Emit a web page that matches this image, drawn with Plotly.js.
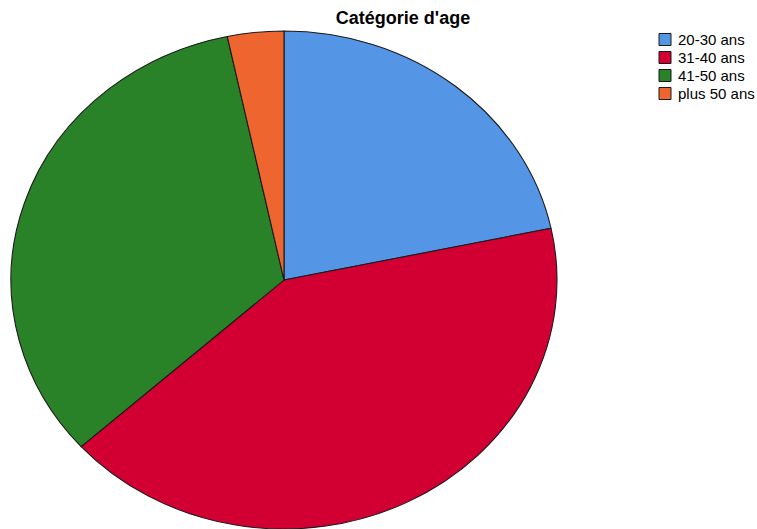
<!DOCTYPE html>
<html>
<head>
<meta charset="utf-8">
<script src="https://cdn.plot.ly/plotly-3.0.1.min.js"></script>
<style>html,body{margin:0;padding:0;background:#fff;}#chart{width:757px;height:529px;}</style>
</head>
<body>
<div id="chart"></div>
<script>
const categories = ["20-30 ans", "31-40 ans", "41-50 ans", "plus 50 ans"];
const counts = [13, 25, 20, 2];
const colors = ["#5595e5", "#d20032", "#2a8228", "#ef6530"];
const chartTitle = "Catégorie d'age";

const W = 757, H = 529;
const cx = 284, cy = 280, rx = 273, ry = 249;
const FONT = "Liberation Sans, Arial, sans-serif";

const data = [{
  type: "pie",
  labels: categories,
  values: counts,
  sort: false,
  direction: "clockwise",
  rotation: 0,
  textinfo: "none",
  hoverinfo: "label+value+percent",
  marker: {colors: colors, line: {color: "#1a1a1a", width: 1}},
  domain: {x: [(cx - ry) / W, (cx + ry) / W], y: [(H - cy - ry) / H, (H - cy + ry) / H]}
}];

const layout = {
  width: W, height: H,
  margin: {l: 0, r: 0, t: 0, b: 0},
  paper_bgcolor: "#fff",
  font: {family: FONT, size: 15, color: "#000"},
  title: {text: "<b>" + chartTitle + "</b>", x: 403 / W, xanchor: "center", y: 1 - 18 / H, yanchor: "middle",
          font: {family: FONT, size: 18, color: "#000"}},
  showlegend: true,
  legend: {x: 1, xanchor: "right", y: 1 - 28 / H, yanchor: "top", borderwidth: 0,
           font: {family: FONT, size: 15, color: "#000"},
           bgcolor: "rgba(0,0,0,0)", itemclick: false, itemdoubleclick: false}
};

Plotly.newPlot("chart", data, layout, {displayModeBar: false, staticPlot: true}).then(function (gd) {
  const pl = gd.querySelector(".pielayer");
  if (pl) {
    const s = rx / ry;
    pl.setAttribute("transform", "translate(" + cx + ",0) scale(" + s + ",1) translate(" + (-cx) + ",0)");
  }
  // compact legend rows like the reference (18px pitch, text close to the swatch)
  const leg = gd.querySelector(".legend");
  if (leg) {
    const m = /translate\(\s*([-\d.]+)[ ,]+([-\d.]+)/.exec(leg.getAttribute("transform") || "");
    const ly = m ? parseFloat(m[2]) : 0;
    leg.setAttribute("transform", "translate(645," + ly + ")");
    const items = leg.querySelectorAll("g.traces");
    items.forEach(function (it, i) {
      it.setAttribute("transform", "translate(0," + (39.5 - ly + 18 * i) + ")");
      const t = it.querySelector("text.legendtext");
      if (t) t.setAttribute("x", 33);
    });
  }
});
</script>
</body>
</html>
